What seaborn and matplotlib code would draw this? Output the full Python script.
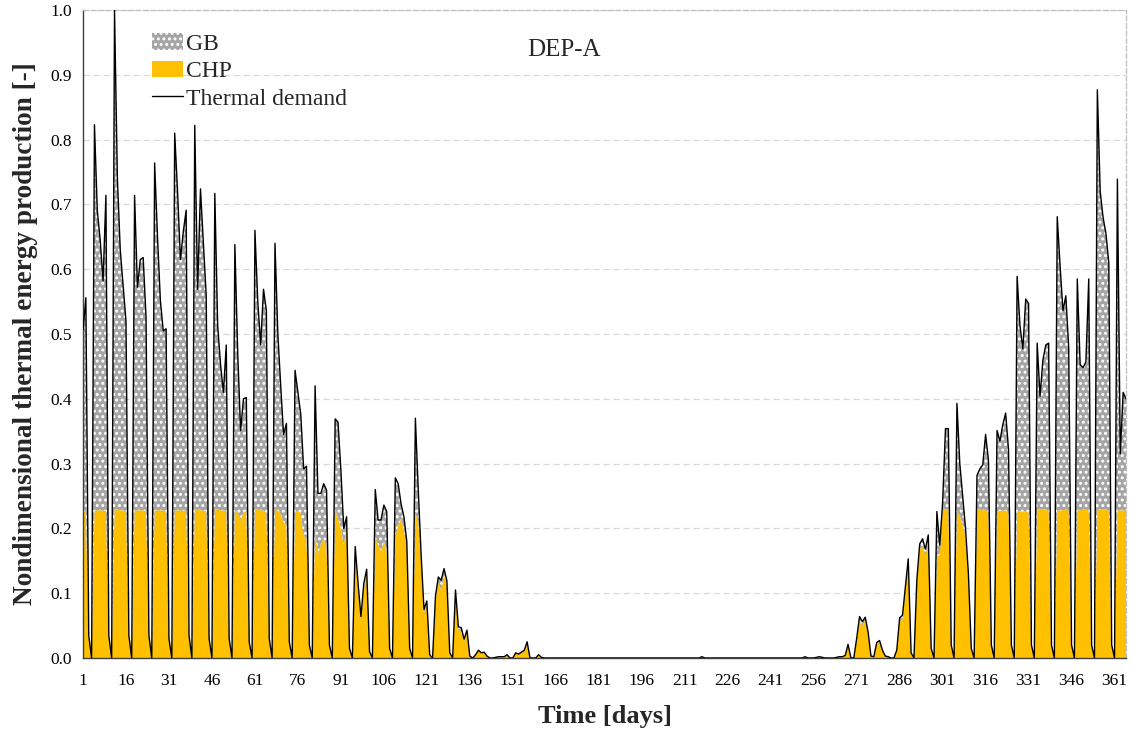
import numpy as np
import pandas as pd
import matplotlib
matplotlib.use("Agg")
import matplotlib.pyplot as plt
from matplotlib.patches import Patch
from matplotlib.lines import Line2D
import seaborn as sns

# ---------------- data ----------------
# Thermal demand, days 1-165 (Thu 1 Jan start, weekly pattern)
demand_spring = [
    0.506, 0.556, 0.035, 0.0,
    0.823, 0.690, 0.645, 0.582, 0.714, 0.035, 0.0,
    1.000, 0.740, 0.630, 0.575, 0.520, 0.035, 0.0,
    0.714, 0.572, 0.615, 0.618, 0.526, 0.035, 0.0,
    0.764, 0.650, 0.552, 0.505, 0.508, 0.030, 0.0,
    0.810, 0.720, 0.615, 0.658, 0.691, 0.035, 0.0,
    0.822, 0.569, 0.724, 0.640, 0.559, 0.030, 0.0,
    0.717, 0.513, 0.453, 0.410, 0.483, 0.030, 0.0,
    0.638, 0.470, 0.351, 0.400, 0.402, 0.025, 0.0,
    0.660, 0.550, 0.483, 0.569, 0.536, 0.030, 0.0,
    0.640, 0.500, 0.420, 0.345, 0.362, 0.025, 0.0,
    0.444, 0.410, 0.376, 0.292, 0.296, 0.020, 0.0,
    0.420, 0.254, 0.254, 0.269, 0.259, 0.020, 0.0,
    0.369, 0.364, 0.290, 0.200, 0.218, 0.015, 0.0,
    0.172, 0.115, 0.064, 0.115, 0.137, 0.010, 0.0,
    0.260, 0.213, 0.213, 0.236, 0.226, 0.015, 0.0,
    0.278, 0.269, 0.238, 0.218, 0.180, 0.015, 0.0,
    0.370, 0.260, 0.160, 0.075, 0.088, 0.005, 0.0,
    0.095, 0.125, 0.120, 0.138, 0.119, 0.008, 0.0,
    0.105, 0.048, 0.047, 0.029, 0.043, 0.003, 0.0,
    0.005, 0.012, 0.008, 0.009, 0.003, 0.0, 0.0,
    0.001, 0.002, 0.002, 0.002, 0.005, 0.0, 0.0,
    0.008, 0.006, 0.009, 0.012, 0.025, 0.0, 0.0,
    0.0, 0.005, 0.001, 0.0, 0.0, 0.0, 0.0,
]
# days 166-255
demand_summer = [
    0.0, 0.0, 0.0, 0.0, 0.0, 0.0, 0.0, 0.0, 0.0, 0.0,
    0.0, 0.0, 0.0, 0.0, 0.0, 0.0, 0.0, 0.0, 0.0, 0.0,
    0.0, 0.0, 0.0, 0.0, 0.0, 0.0, 0.0, 0.0, 0.0, 0.0,
    0.0, 0.0, 0.0, 0.0, 0.0, 0.0, 0.0, 0.0, 0.0, 0.0,
    0.0, 0.0, 0.0, 0.0, 0.0, 0.0, 0.0, 0.0, 0.0, 0.0,
    0.0, 0.002, 0.0, 0.0, 0.0, 0.0, 0.0, 0.0, 0.0, 0.0,
    0.0, 0.0, 0.0, 0.0, 0.0, 0.0, 0.0, 0.0, 0.0, 0.0,
    0.0, 0.0, 0.0, 0.0, 0.0, 0.0, 0.0, 0.0, 0.0, 0.0,
    0.0, 0.0, 0.0, 0.0, 0.0, 0.0, 0.0, 0.002, 0.0, 0.0,
]
# days 256-365
demand_autumn = [
    0.0,
    0.001, 0.002, 0.001, 0.0, 0.0, 0.0, 0.0,
    0.001, 0.002, 0.002, 0.004, 0.021, 0.0, 0.0,
    0.030, 0.064, 0.056, 0.063, 0.040, 0.003, 0.002,
    0.024, 0.027, 0.012, 0.003, 0.002, 0.0, 0.0,
    0.012, 0.062, 0.066, 0.110, 0.153, 0.008, 0.0,
    0.120, 0.176, 0.184, 0.168, 0.190, 0.015, 0.0,
    0.226, 0.174, 0.240, 0.354, 0.354, 0.020, 0.0,
    0.393, 0.300, 0.250, 0.200, 0.130, 0.015, 0.0,
    0.282, 0.292, 0.298, 0.345, 0.305, 0.020, 0.0,
    0.351, 0.335, 0.360, 0.378, 0.322, 0.020, 0.0,
    0.589, 0.513, 0.477, 0.554, 0.547, 0.020, 0.0,
    0.486, 0.404, 0.460, 0.483, 0.486, 0.020, 0.0,
    0.681, 0.605, 0.536, 0.559, 0.480, 0.020, 0.0,
    0.585, 0.453, 0.448, 0.457, 0.585, 0.020, 0.0,
    0.877, 0.720, 0.680, 0.655, 0.610, 0.020, 0.0,
    0.739, 0.315, 0.410, 0.400,
]

# CHP thermal production
chp_spring = [
    0.226, 0.226, 0.035, 0.0,
    0.228, 0.228, 0.228, 0.228, 0.227, 0.035, 0.0,
    0.229, 0.229, 0.228, 0.228, 0.227, 0.035, 0.0,
    0.228, 0.228, 0.228, 0.228, 0.227, 0.035, 0.0,
    0.228, 0.228, 0.228, 0.228, 0.226, 0.030, 0.0,
    0.228, 0.228, 0.228, 0.228, 0.227, 0.035, 0.0,
    0.229, 0.229, 0.228, 0.228, 0.227, 0.030, 0.0,
    0.229, 0.229, 0.228, 0.228, 0.227, 0.030, 0.0,
    0.228, 0.225, 0.212, 0.225, 0.226, 0.025, 0.0,
    0.229, 0.229, 0.228, 0.228, 0.222, 0.030, 0.0,
    0.229, 0.228, 0.222, 0.210, 0.205, 0.025, 0.0,
    0.226, 0.226, 0.224, 0.188, 0.186, 0.020, 0.0,
    0.200, 0.160, 0.175, 0.185, 0.170, 0.020, 0.0,
    0.230, 0.215, 0.200, 0.175, 0.200, 0.015, 0.0,
    0.165, 0.108, 0.060, 0.105, 0.130, 0.010, 0.0,
    0.185, 0.175, 0.165, 0.180, 0.165, 0.015, 0.0,
    0.187, 0.205, 0.215, 0.197, 0.172, 0.015, 0.0,
    0.223, 0.210, 0.150, 0.070, 0.080, 0.005, 0.0,
    0.090, 0.116, 0.104, 0.128, 0.113, 0.008, 0.0,
    0.100, 0.044, 0.040, 0.026, 0.040, 0.003, 0.0,
    0.005, 0.011, 0.007, 0.008, 0.003, 0.0, 0.0,
    0.001, 0.002, 0.002, 0.002, 0.004, 0.0, 0.0,
    0.007, 0.005, 0.008, 0.010, 0.020, 0.0, 0.0,
    0.0, 0.004, 0.001, 0.0, 0.0, 0.0, 0.0,
]
chp_summer = list(demand_summer)
chp_autumn = [
    0.0,
    0.001, 0.002, 0.001, 0.0, 0.0, 0.0, 0.0,
    0.001, 0.002, 0.002, 0.004, 0.020, 0.0, 0.0,
    0.028, 0.058, 0.050, 0.058, 0.037, 0.003, 0.002,
    0.022, 0.025, 0.011, 0.003, 0.002, 0.0, 0.0,
    0.011, 0.056, 0.060, 0.104, 0.148, 0.008, 0.0,
    0.115, 0.168, 0.172, 0.158, 0.182, 0.015, 0.0,
    0.155, 0.160, 0.228, 0.230, 0.230, 0.020, 0.0,
    0.226, 0.220, 0.205, 0.190, 0.125, 0.015, 0.0,
    0.229, 0.229, 0.228, 0.229, 0.222, 0.020, 0.0,
    0.226, 0.227, 0.228, 0.228, 0.225, 0.020, 0.0,
    0.226, 0.226, 0.226, 0.226, 0.225, 0.020, 0.0,
    0.229, 0.229, 0.229, 0.229, 0.228, 0.020, 0.0,
    0.228, 0.228, 0.228, 0.229, 0.228, 0.020, 0.0,
    0.228, 0.228, 0.229, 0.229, 0.228, 0.020, 0.0,
    0.229, 0.229, 0.229, 0.229, 0.227, 0.020, 0.0,
    0.228, 0.228, 0.228, 0.228,
]

x_ticks = [1, 16, 31, 46, 61, 76, 91, 106, 121, 136, 151, 166, 181, 196,
           211, 226, 241, 256, 271, 286, 301, 316, 331, 346, 361]
y_ticks = [0.0, 0.1, 0.2, 0.3, 0.4, 0.5, 0.6, 0.7, 0.8, 0.9, 1.0]

# ---------------- build frame ----------------
demand = np.array(demand_spring + demand_summer + demand_autumn)
chp = np.minimum(np.array(chp_spring + chp_summer + chp_autumn), demand)
days = np.arange(1, len(demand) + 1)
df = pd.DataFrame({"day": days, "demand": demand, "chp": chp})

# ---------------- style ----------------
sns.set_theme(style="white")
plt.rcParams["font.family"] = ["Liberation Serif", "DejaVu Serif"]
plt.rcParams["hatch.linewidth"] = 1.4

W, H = 1133, 731
fig = plt.figure(figsize=(W / 100, H / 100), dpi=100)
L, R, T, B = 83, 1126, 10, 658
ax = fig.add_axes([L / W, 1 - B / H, (R - L) / W, (B - T) / H])

yellow = "#FFC000"
gray = "#A5A5A5"

ax.fill_between(df["day"], 0, df["chp"], facecolor=yellow, edgecolor="none", lw=0, zorder=2)
ax.fill_between(df["day"], df["chp"], df["demand"], facecolor=gray, edgecolor="white",
                hatch="...", lw=0, zorder=2)
sns.lineplot(data=df, x="day", y="demand", color="black", lw=1.0, ax=ax, zorder=3,
             legend=False)

ax.set_xlim(1, 365)
ax.set_ylim(0, 1.0)
ax.set_xticks(x_ticks)
ax.set_xticklabels([str(t) for t in x_ticks])
ax.set_yticks(y_ticks)
ax.set_yticklabels([f"{v:.1f}" for v in y_ticks])
ax.tick_params(axis="both", length=0, labelsize=12.5, colors="black")
ax.tick_params(axis="x", pad=11)
ax.tick_params(axis="y", pad=8)

ax.yaxis.grid(True, color="#D9D9D9", linestyle=(0, (5, 3)), lw=0.9, zorder=0)
ax.xaxis.grid(False)
for s in ["top", "right"]:
    ax.spines[s].set_color("#BFBFBF")
    ax.spines[s].set_linestyle((0, (4, 2)))
    ax.spines[s].set_linewidth(0.9)
for s in ["left", "bottom"]:
    ax.spines[s].set_color("#404040")
    ax.spines[s].set_linewidth(1.0)

ax.set_xlabel("Time [days]", fontsize=19, fontweight="bold", labelpad=11)
ax.set_ylabel("Nondimensional thermal energy production [-]", fontsize=19.6,
              fontweight="bold", labelpad=9)

ax.text(0.461, 0.938, "DEP-A", transform=ax.transAxes, fontsize=18,
        ha="center", va="center")

handles = [
    Patch(facecolor=gray, edgecolor="white", hatch="...", lw=0, label="GB"),
    Patch(facecolor=yellow, edgecolor="none", lw=0, label="CHP"),
    Line2D([0], [0], color="black", lw=1.0, label="Thermal demand"),
]
leg = ax.legend(handles=handles, loc="upper left", bbox_to_anchor=(0.066, 0.964),
                frameon=False, fontsize=17, handlelength=1.3, handletextpad=0.13,
                labelspacing=0.25, borderaxespad=0, borderpad=0)

fig.savefig("out.png", dpi=100)
